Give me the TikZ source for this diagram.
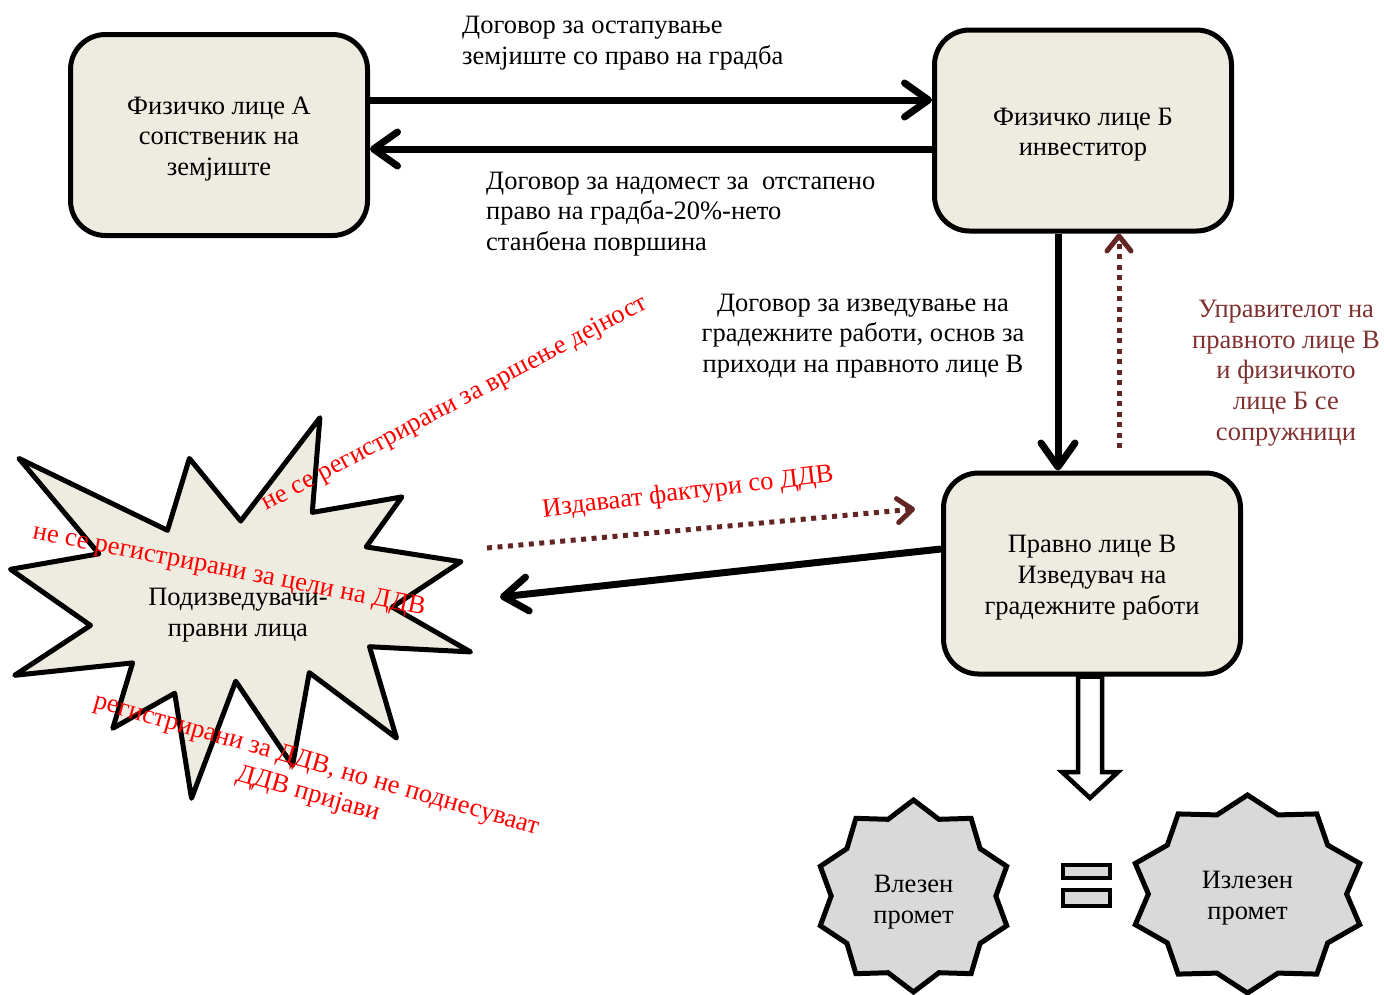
\documentclass[tikz,border=0pt]{standalone}
\usepackage{fontspec}
\setmainfont{Liberation Serif}
\usetikzlibrary{arrows.meta}
\definecolor{boxfill}{HTML}{EEECE1}
\definecolor{sealfill}{HTML}{D9D9D9}
\definecolor{wine}{HTML}{632523}
\definecolor{winetext}{HTML}{7E3130}

% ten-point seal: centre x, centre y, radius x, radius y
\newcommand\sealshape[4]{%
  \draw[sealstyle] plot[samples=20, domain=0:19, variable=\k]
    ({#1+ifthenelse(mod(round(\k),2)==0,1,0.84)*#3*cos(90+18*\k)},
     {#2+ifthenelse(mod(round(\k),2)==0,1,0.84)*#4*sin(90+18*\k)}) -- cycle;}
% extra room above the first line of a box text, to set it a little lower
\newcommand\toppad{\rule{0pt}{25.5pt}}

\begin{document}
\begin{tikzpicture}[x=1pt,y=-1pt,
  every node/.style={font=\fontsize{26.5}{30.7}\selectfont, inner sep=0pt},
  roundbox/.style={draw, line width=5pt, fill=boxfill, rounded corners=35pt,
    minimum width=297pt, minimum height=201pt, align=center},
  bigarrow/.style={line width=7pt,
    -{Straight Barb[length=24pt,width=34pt,line cap=round,line join=round]}},
  dotarrow/.style={wine, line width=5pt, dash pattern=on 5pt off 5.5pt,
    -{Straight Barb[length=15pt,width=24pt,line cap=round,line join=round]}},
  redlabel/.style={text=red, align=center},
  burst/.style={draw, line width=5pt, fill=boxfill, line join=round},
  sealstyle/.style={draw, line width=5pt, fill=sealfill, line join=miter},
  eqstyle/.style={draw, line width=4.5pt, fill=sealfill},
  hollow/.style={draw, line width=4.5pt, fill=white, line join=miter},
  ]
\useasboundingbox (0,0) rectangle (1384,994);

% the three parties
\node[roundbox] (A) at (219,135) {\toppad Физичко лице А\\сопственик на\\земјиште};
\node[roundbox] (B) at (1083,130.5) {\toppad Физичко лице Б\\инвеститор};
\node[roundbox] (C) at (1092,573.5) {\toppad Правно лице В\\Изведувач на\\градежните работи};

% contracts between A and B
\draw[bigarrow] ([yshift=35pt]A.east) -- ([yshift=30.5pt]B.west);
\draw[bigarrow] ([yshift=-18.5pt]B.west) -- ([yshift=-14pt]A.east);
\node[anchor=west, align=left] (tl) at (462,43) {Договор за остапување\\земјиште со право на градба};
\node[anchor=west, align=left] (bl) at (486,214) {Договор за надомест за \ отстапено\\право на градба-20\%-нето\\станбена површина};

% B to C
\draw[bigarrow] ([xshift=-25pt]B.south) -- ([xshift=-34pt]C.north);
\node[align=center] (ml) at (863,336) {Договор за изведување на\\градежните работи, основ за\\приходи на правното лице В};
\coordinate (up) at (1119,448);
\draw[dotarrow] (up) -- ([xshift=36pt]B.south);
\node[align=center, text=winetext] (sp) at (1286,373) {Управителот на\\правното лице В\\и физичкото\\лице Б се\\сопружници};

% subcontractors
\draw[burst] (18.9,458.4) -- (167.5,530.3) -- (189.4,458.4) -- (240.7,521.0)
  -- (319.9,417.7) -- (312.3,512.4) -- (401.9,496.9) -- (366.2,546.9)
  -- (460.9,561.7) -- (392.3,607.1) -- (470.5,651.9) -- (369.5,646.7)
  -- (396.5,738.0) -- (309.3,672.6) -- (292.5,765.5) -- (235.7,681.2)
  -- (191.5,798.3) -- (174.7,693.2) -- (112.8,728.3) -- (132.6,662.9)
  -- (14.7,675.3) -- (90.5,625.4) -- (10.5,569.3) -- (98.9,553.8) -- cycle;
\node[align=center] (S) at (238,615) {Подизведувачи-\\правни лица};
\coordinate (sin) at (500,597);
\draw[bigarrow] ([yshift=24.5pt]C.west) -- (sin);
\coordinate (inv0) at (487,548);
\coordinate (inv1) at (915,509);
\draw[dotarrow] (inv0) -- (inv1);
\node[redlabel, rotate=7] (inv) at (688,493) {Издаваат фактури со ДДВ};
\node[redlabel, rotate=28] (r1) at (455,404) {не се регистрирани за вршење дејност};
\node[redlabel, rotate=-11] (r2) at (229,571) {не се регистрирани за цели на ДДВ};
\node[redlabel, rotate=-16] (r3) at (312,780) {регистрирани за ДДВ, но не поднесуваат\\ДДВ пријави};

% turnover
\draw[hollow] ([xshift=-14pt]C.south) -- (1078,772) -- (1062,772) -- (1090,798)
  -- (1118,772) -- (1102,772) -- ([xshift=10pt]C.south) -- cycle;
\sealshape{913.5}{896}{98}{96}
\node[align=center] (in) at (913.5,902) {Влезен\\промет};
\sealshape{1247.5}{894}{118}{99}
\node[align=center] (out) at (1247.5,898) {Излезен\\промет};
\draw[eqstyle] (1063,865) rectangle (1110,878);
\draw[eqstyle] (1063,890) rectangle (1110,906);
\end{tikzpicture}
\end{document}
